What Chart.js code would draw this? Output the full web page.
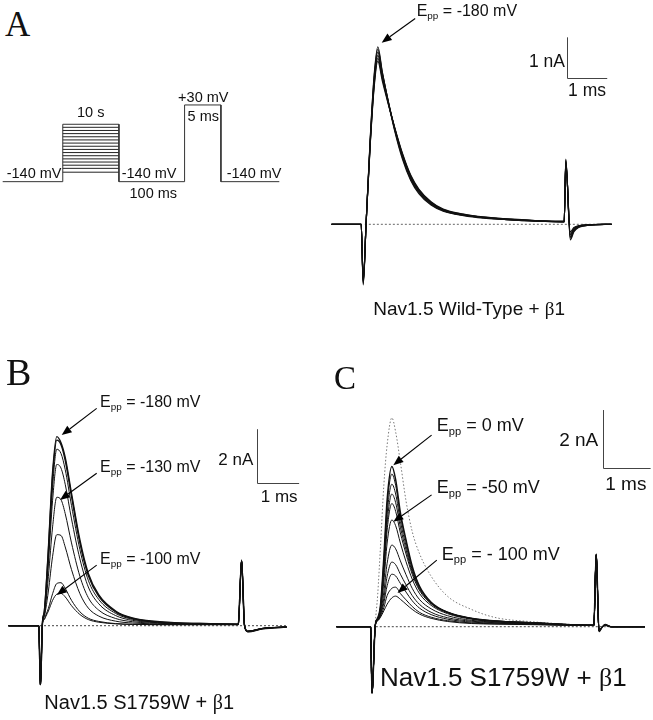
<!DOCTYPE html>
<html><head><meta charset="utf-8">
<script src="https://cdn.jsdelivr.net/npm/chart.js@4.4.1/dist/chart.umd.min.js"></script>
<style>
html,body{margin:0;padding:0;background:#fff;}
body{width:653px;height:720px;position:relative;overflow:hidden;font-family:"Liberation Sans",Arial,sans-serif;color:#111;}
canvas{position:absolute;}
.t{position:absolute;white-space:nowrap;line-height:1;}
.c{transform:translateX(-50%);}
.r{transform:translateX(-100%);}
.serif{font-family:"Liberation Serif","Times New Roman",serif;}
.sub{font-size:0.62em;position:relative;top:0.35em;}
.beta{font-family:"Liberation Serif","Times New Roman",serif;}
</style></head><body>
<canvas id="cP"></canvas>
<canvas id="cA"></canvas>
<canvas id="cB"></canvas>
<canvas id="cC"></canvas>

<!-- Panel A protocol -->
<div class="t serif" style="left:5px;top:7px;font-size:35px;">A</div>
<div class="t" style="left:6.7px;top:165.6px;font-size:14.5px;">-140 mV</div>
<div class="t c" style="left:90.7px;top:105.2px;font-size:14.5px;">10 s</div>
<div class="t" style="left:121.7px;top:165.6px;font-size:14.5px;">-140 mV</div>
<div class="t c" style="left:153.3px;top:186.2px;font-size:14.5px;">100 ms</div>
<div class="t c" style="left:203.3px;top:89.6px;font-size:14.5px;">+30 mV</div>
<div class="t c" style="left:203.3px;top:108.9px;font-size:14.5px;">5 ms</div>
<div class="t" style="left:226.7px;top:165.6px;font-size:14.5px;">-140 mV</div>

<!-- Panel A traces -->
<div class="t" style="left:416.7px;top:2.5px;font-size:16px;">E<span class="sub">pp</span> = -180 mV</div>
<div class="t r" style="left:565px;top:53.1px;font-size:17.5px;">1 nA</div>
<div class="t c" style="left:587px;top:82.2px;font-size:17.5px;">1 ms</div>
<div class="t c" style="left:469.2px;top:299px;font-size:19px;">Nav1.5 Wild-Type + <span class="beta">β</span>1</div>

<!-- Panel B -->
<div class="t serif" style="left:6px;top:353.3px;font-size:38px;">B</div>
<div class="t" style="left:100px;top:393.9px;font-size:16px;">E<span class="sub">pp</span> = -180 mV</div>
<div class="t" style="left:100px;top:458.9px;font-size:16px;">E<span class="sub">pp</span> = -130 mV</div>
<div class="t" style="left:100px;top:550.5px;font-size:16px;">E<span class="sub">pp</span> = -100 mV</div>
<div class="t r" style="left:253.3px;top:450.7px;font-size:17px;">2 nA</div>
<div class="t c" style="left:279.2px;top:487.5px;font-size:17px;">1 ms</div>
<div class="t c" style="left:139.2px;top:691.9px;font-size:20px;">Nav1.5 S1759W + <span class="beta">β</span>1</div>

<!-- Panel C -->
<div class="t serif" style="left:334px;top:362.3px;font-size:33px;">C</div>
<div class="t" style="left:436.7px;top:416.2px;font-size:18px;">E<span class="sub">pp</span> = 0 mV</div>
<div class="t" style="left:436.7px;top:477.9px;font-size:18px;">E<span class="sub">pp</span> = -50 mV</div>
<div class="t" style="left:441.7px;top:544.5px;font-size:18px;">E<span class="sub">pp</span> = - 100 mV</div>
<div class="t r" style="left:598.3px;top:430.4px;font-size:19px;">2 nA</div>
<div class="t c" style="left:625.8px;top:474px;font-size:19px;">1 ms</div>
<div class="t c" style="left:503.3px;top:663.9px;font-size:26px;">Nav1.5 S1759W + <span class="beta">β</span>1</div>

<script>
// ---------- Protocol (schematic units) ----------
const protoX = [0, 21.5, 21.5, 41.6, 41.6, 65.1, 65.1, 78.1, 78.1, 99];
const protoV = [-140, -140, -12.8, -12.8, -140, -140, 30, 30, -140, -140];
const prepulseSpan = [21.5, 41.6];
const prepulseLevels = [-19.5, -26.5, -33.5, -40.5, -47.5, -54.5, -61.5, -68.5, -75.5, -82.5, -89.5, -96.5, -103.5, -110.5, -119];

// ---------- Panel A: WT + beta1 (time ms, current nA) ----------
const tA = [-0.75, -0.02, 0.03, 0.10, 0.20, 0.30, 0.39, 0.50, 0.65, 0.80, 1.00, 1.20, 1.40, 1.70, 2.00, 2.50, 3.00, 3.50, 4.00, 4.50, 4.98, 5.02, 5.13, 5.22, 5.35, 5.60, 6.15];
const wt1 = [0, 0, -1.48, 0, 2.05, 3.65, 4.33, 3.72, 2.97, 2.30, 1.58, 1.07, 0.75, 0.47, 0.32, 0.21, 0.15, 0.12, 0.09, 0.07, 0.06, 1.59, -0.38, -0.18, -0.07, -0.02, 0];
const wt2 = [0, 0, -1.45, 0, 2.02, 3.60, 4.27, 3.70, 2.99, 2.33, 1.62, 1.10, 0.78, 0.49, 0.33, 0.22, 0.16, 0.12, 0.09, 0.07, 0.06, 1.57, -0.34, -0.16, -0.06, -0.02, 0];
const wt3 = [0, 0, -1.42, 0, 1.98, 3.52, 4.20, 3.66, 2.98, 2.35, 1.65, 1.13, 0.80, 0.51, 0.34, 0.22, 0.16, 0.12, 0.10, 0.08, 0.06, 1.55, -0.30, -0.14, -0.06, -0.02, 0];
const wt4 = [0, 0, -1.40, 0, 1.95, 3.45, 4.12, 3.60, 2.96, 2.36, 1.68, 1.16, 0.82, 0.52, 0.35, 0.23, 0.17, 0.13, 0.10, 0.08, 0.07, 1.52, -0.26, -0.12, -0.05, -0.01, 0];
const wt5 = [0, 0, -1.38, 0, 1.92, 3.40, 4.05, 3.56, 2.94, 2.37, 1.70, 1.18, 0.84, 0.54, 0.36, 0.24, 0.17, 0.13, 0.10, 0.08, 0.07, 1.50, -0.22, -0.10, -0.04, -0.01, 0];
const wt6 = [0, 0, -1.36, 0, 1.90, 3.35, 3.98, 3.50, 2.92, 2.38, 1.72, 1.20, 0.86, 0.55, 0.37, 0.25, 0.18, 0.14, 0.11, 0.08, 0.07, 1.48, -0.18, -0.08, -0.03, -0.01, 0];
const zeroA = [0.07, 6.1];

// ---------- Panel B: S1759W + beta1 ----------
const tB = [-0.75, -0.03, 0.01, 0.06, 0.10, 0.14, 0.20, 0.30, 0.40, 0.50, 0.60, 0.75, 0.95, 1.15, 1.40, 1.80, 2.20, 3.00, 3.80, 4.72, 4.80, 4.87, 4.95, 5.30, 5.87];
const b1 = [0, 0, -2.22, 0.15, 0.5, 1.3, 2.9, 5.75, 7.08, 6.85, 6.3, 4.96, 3.21, 1.96, 1.15, 0.55, 0.29, 0.13, 0.08, 0.06, 2.46, 0, -0.23, -0.12, -0.05];
const b2 = [0, 0, -2.2, 0.15, 0.48, 1.25, 2.8, 5.6, 6.95, 6.78, 6.2, 4.85, 3.1, 1.88, 1.1, 0.52, 0.27, 0.12, 0.08, 0.06, 2.44, 0, -0.22, -0.11, -0.05];
const b3 = [0, 0, -2.2, 0.14, 0.45, 1.15, 2.6, 5.2, 6.61, 6.45, 5.85, 4.5, 2.85, 1.7, 0.98, 0.46, 0.24, 0.11, 0.07, 0.05, 2.42, 0, -0.22, -0.11, -0.05];
const b4 = [0, 0, -2.2, 0.13, 0.42, 1.05, 2.35, 4.7, 6.04, 5.9, 5.3, 4.0, 2.5, 1.45, 0.82, 0.38, 0.2, 0.1, 0.07, 0.05, 2.42, 0, -0.22, -0.11, -0.05];
const b5 = [0, 0, -2.2, 0.12, 0.38, 0.85, 1.85, 3.7, 4.81, 4.72, 4.2, 3.1, 1.85, 1.05, 0.58, 0.27, 0.15, 0.08, 0.06, 0.05, 2.4, 0, -0.21, -0.1, -0.05];
const b6 = [0, 0, -2.2, 0.11, 0.33, 0.65, 1.3, 2.6, 3.41, 3.38, 2.95, 2.1, 1.2, 0.66, 0.36, 0.17, 0.1, 0.06, 0.05, 0.04, 2.4, 0, -0.21, -0.1, -0.05];
const b7 = [0, 0, -2.2, 0.1, 0.25, 0.4, 0.65, 1.2, 1.58, 1.61, 1.4, 0.95, 0.52, 0.28, 0.16, 0.08, 0.05, 0.04, 0.04, 0.04, 2.38, 0, -0.2, -0.1, -0.05];
const b8 = [0, 0, -2.2, 0.1, 0.22, 0.35, 0.55, 0.95, 1.18, 1.21, 1.08, 0.75, 0.42, 0.23, 0.13, 0.07, 0.05, 0.04, 0.04, 0.04, 2.38, 0, -0.2, -0.1, -0.05];
const zeroB = [0.0, 5.88];

// ---------- Panel C: S1759W + beta1 ----------
const tC = [-0.75, -0.03, 0.0, 0.07, 0.12, 0.18, 0.25, 0.32, 0.42, 0.50, 0.60, 0.72, 0.85, 1.0, 1.25, 1.6, 2.1, 2.6, 3.4, 4.69, 4.74, 4.80, 4.87, 4.93, 5.05, 5.77];
const c1 = [0, 0, -2.31, 0.05, 0.3, 0.75, 2.4, 4.4, 5.55, 5.1, 3.95, 3.0, 2.1, 1.42, 0.85, 0.5, 0.29, 0.2, 0.14, 0.05, 2.52, -0.17, 0.0, 0.08, 0.0, 0];
const c2 = [0, 0, -2.3, 0.05, 0.3, 0.72, 2.3, 4.2, 5.29, 4.9, 3.85, 2.95, 2.05, 1.4, 0.84, 0.5, 0.29, 0.2, 0.14, 0.05, 2.5, -0.16, 0.0, 0.07, 0.0, 0];
const c3 = [0, 0, -2.3, 0.05, 0.28, 0.68, 2.1, 3.9, 4.94, 4.6, 3.65, 2.8, 1.97, 1.36, 0.83, 0.5, 0.29, 0.2, 0.14, 0.05, 2.5, -0.16, 0.0, 0.07, 0.0, 0];
const c4 = [0, 0, -2.3, 0.05, 0.27, 0.64, 1.95, 3.6, 4.6, 4.3, 3.45, 2.66, 1.9, 1.32, 0.81, 0.49, 0.28, 0.19, 0.13, 0.05, 2.48, -0.15, 0.0, 0.07, 0.0, 0];
const c5 = [0, 0, -2.3, 0.05, 0.26, 0.6, 1.8, 3.35, 4.27, 4.0, 3.25, 2.52, 1.82, 1.27, 0.79, 0.48, 0.28, 0.19, 0.13, 0.05, 2.48, -0.15, 0.0, 0.06, 0.0, 0];
const c6 = [0, 0, -2.3, 0.05, 0.25, 0.55, 1.55, 2.9, 3.7, 3.5, 2.9, 2.25, 1.65, 1.16, 0.74, 0.45, 0.26, 0.18, 0.12, 0.05, 2.46, -0.14, 0.0, 0.06, 0.0, 0];
const c7 = [0, 0, -2.3, 0.05, 0.24, 0.48, 1.2, 2.2, 2.83, 2.7, 2.28, 1.8, 1.33, 0.95, 0.62, 0.38, 0.22, 0.16, 0.11, 0.05, 2.46, -0.14, 0.0, 0.06, 0.0, 0];
const c8 = [0, 0, -2.3, 0.05, 0.23, 0.43, 0.98, 1.75, 2.24, 2.15, 1.82, 1.45, 1.08, 0.78, 0.5, 0.31, 0.19, 0.14, 0.1, 0.04, 2.44, -0.13, 0.0, 0.05, 0.0, 0];
const c9 = [0, 0, -2.3, 0.05, 0.22, 0.4, 0.82, 1.42, 1.82, 1.76, 1.5, 1.2, 0.9, 0.65, 0.42, 0.26, 0.16, 0.12, 0.09, 0.04, 2.44, -0.13, 0.0, 0.05, 0.0, 0];
const c10 = [0, 0, -2.3, 0.05, 0.21, 0.36, 0.66, 1.08, 1.33, 1.37, 1.15, 0.93, 0.7, 0.5, 0.33, 0.21, 0.13, 0.1, 0.08, 0.04, 2.42, -0.12, 0.0, 0.05, 0.0, 0];
const c11 = [0, 0, -2.3, 0.05, 0.2, 0.33, 0.55, 0.78, 1.0, 1.06, 0.95, 0.78, 0.6, 0.44, 0.29, 0.18, 0.11, 0.09, 0.07, 0.04, 2.42, -0.12, 0.0, 0.05, 0.0, 0];
const cDot = [0, 0, -2.3, 0.1, 1.1, 2.8, 4.9, 6.3, 7.24, 6.75, 5.7, 4.35, 3.3, 2.55, 1.75, 1.05, 0.6, 0.32, 0.17, 0.06, 2.4, -0.15, 0.0, 0.05, 0.0, 0];
const zeroC = [0.08, 5.77];

// ---------- helpers ----------
function pts(xs, ys) { return xs.map((x, i) => ({x: x, y: ys[i]})); }
function trace(xs, ys, w, color, dash) {
  return {data: pts(xs, ys), borderColor: color || '#111', borderWidth: w || 1, borderDash: dash || [],
          cubicInterpolationMode: 'monotone', pointRadius: 0, fill: false};
}
function flat(x0x1, y, color, dash, w) {
  return {data: [{x: x0x1[0], y: y}, {x: x0x1[1], y: y}], borderColor: color, borderWidth: w || 1,
          borderDash: dash || [], tension: 0, pointRadius: 0, fill: false};
}
function makeAnnot(arrows, bar) {
  return {
    id: 'annot',
    afterDatasetsDraw(chart) {
      const ctx = chart.ctx, xs = chart.scales.x, ys = chart.scales.y;
      ctx.save();
      arrows.forEach(a => {
        const x1 = xs.getPixelForValue(a[0]), y1 = ys.getPixelForValue(a[1]);
        const x2 = xs.getPixelForValue(a[2]), y2 = ys.getPixelForValue(a[3]);
        const ang = Math.atan2(y2 - y1, x2 - x1), L = 10, W = 4;
        const bx = x2 - L * Math.cos(ang), by = y2 - L * Math.sin(ang);
        ctx.strokeStyle = '#000'; ctx.lineWidth = 1.1;
        ctx.beginPath(); ctx.moveTo(x1, y1); ctx.lineTo(bx, by); ctx.stroke();
        ctx.fillStyle = '#000'; ctx.beginPath();
        ctx.moveTo(x2, y2);
        ctx.lineTo(bx - W * Math.sin(ang), by + W * Math.cos(ang));
        ctx.lineTo(bx + W * Math.sin(ang), by - W * Math.cos(ang));
        ctx.closePath(); ctx.fill();
      });
      if (bar) {
        const x0 = Math.round(xs.getPixelForValue(bar.x)) + 0.5, y0 = Math.round(ys.getPixelForValue(bar.y)) + 0.5;
        const x1 = xs.getPixelForValue(bar.x + bar.dx), y1 = ys.getPixelForValue(bar.y + bar.dy);
        ctx.strokeStyle = '#444'; ctx.lineWidth = 1;
        ctx.beginPath(); ctx.moveTo(x0, y1); ctx.lineTo(x0, y0); ctx.lineTo(x1, y0); ctx.stroke();
      }
      ctx.restore();
    }
  };
}
// frame: canvas rect on page and the page pixel of value 0 + pixels per unit
function makeChart(id, f, datasets, annot) {
  const c = document.getElementById(id);
  c.width = f.w; c.height = f.h;
  c.style.left = f.left + 'px'; c.style.top = f.top + 'px';
  c.style.width = f.w + 'px'; c.style.height = f.h + 'px';
  const xmin = (f.left - f.x0) / f.px, xmax = (f.left + f.w - f.x0) / f.px;
  const ymax = (f.y0 - f.top) / f.py, ymin = (f.y0 - f.top - f.h) / f.py;
  return new Chart(c, {
    type: 'line',
    data: {datasets: datasets},
    options: {
      responsive: false, animation: false, devicePixelRatio: 1,
      layout: {padding: 0},
      plugins: {legend: {display: false}, tooltip: {enabled: false}},
      scales: {
        x: {type: 'linear', display: false, min: xmin, max: xmax},
        y: {type: 'linear', display: false, min: ymin, max: ymax}
      },
      elements: {point: {radius: 0}}
    },
    plugins: [annot]
  });
}

// ---------- Protocol ----------
const protoSets = [
  {data: pts(protoX, protoV), borderColor: '#333', borderWidth: 1, tension: 0, pointRadius: 0, fill: false}
].concat(prepulseLevels.map(v => flat(prepulseSpan, v, '#222', [], 1)));
makeChart('cP', {left: 0, top: 90, w: 290, h: 110, x0: 2.7, px: 2.794, y0: 118.5, py: 0.4512}, protoSets, makeAnnot([], null));

// ---------- A ----------
const setsA = [wt1, wt2, wt3, wt4, wt5, wt6].map(v => trace(tA, v, 1.2, '#111'));
setsA.push(flat(zeroA, 0, '#666', [2, 2], 1));
makeChart('cA', {left: 325, top: 0, w: 328, h: 300, x0: 362, px: 40.6, y0: 224.3, py: 41}, setsA,
  makeAnnot([[1.31, 5.02, 0.485, 4.43]], {x: 5.04, y: 3.56, dx: 1, dy: 1}));

// ---------- B ----------
const setsB = [b1, b2, b3, b4, b5, b6, b7, b8].map((v, i) => trace(tB, v, i < 2 ? 1.4 : 1, '#111'));
setsB.push(flat(zeroB, 0, '#444', [2, 2], 1));
makeChart('cB', {left: 0, top: 385, w: 325, h: 320, x0: 40, px: 42, y0: 625.7, py: 26.7}, setsB,
  makeAnnot([[1.35, 8.14, 0.517, 7.14], [1.35, 5.71, 0.476, 4.71], [1.35, 2.27, 0.40, 1.15]], {x: 5.17, y: 5.36, dx: 1, dy: 2}));

// ---------- C ----------
const setsC = [c1, c2, c3, c4, c5, c6, c7, c8, c9, c10, c11].map((v, i) => trace(tC, v, i < 1 ? 1.5 : 1, '#111'));
setsC.push(trace(tC, cDot, 1, '#777', [1.5, 2]));
setsC.push(flat(zeroC, 0, '#444', [2, 2], 1));
makeChart('cC', {left: 330, top: 385, w: 323, h: 315, x0: 372, px: 47.3, y0: 626.7, py: 28.85}, setsC,
  makeAnnot([[1.26, 6.64, 0.45, 5.60], [1.26, 4.57, 0.45, 3.64], [1.37, 2.31, 0.54, 1.17]], {x: 4.89, y: 5.51, dx: 1, dy: 2}));
</script>
</body></html>
